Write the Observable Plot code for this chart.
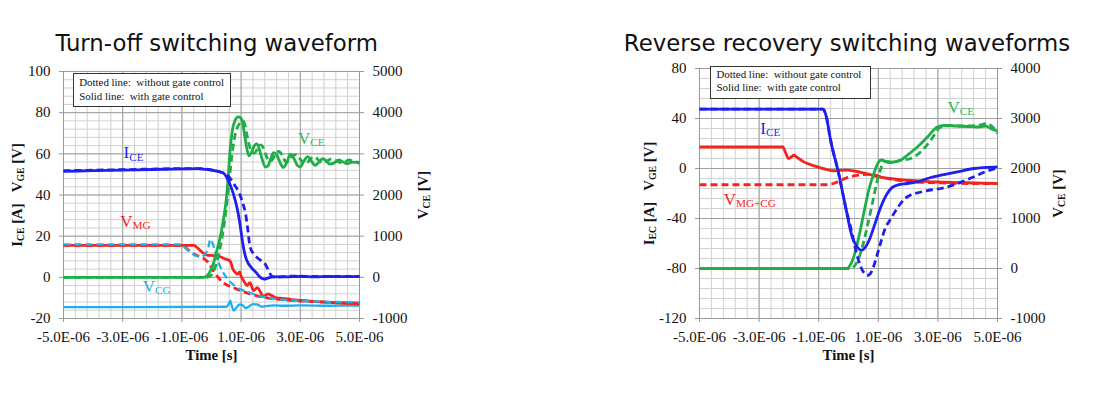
<!DOCTYPE html>
<html><head><meta charset="utf-8">
<script src="https://cdn.jsdelivr.net/npm/d3@7"></script>
<script src="https://cdn.jsdelivr.net/npm/@observablehq/plot@0.6"></script>
<style>
body{margin:0;background:#fff;}
#wrap{position:relative;width:1102px;height:394px;overflow:hidden;background:#fff;}
.panel{position:absolute;top:0;width:551px;height:394px;}
.panel svg text{font-family:'Liberation Serif','Times New Roman',serif;}
.title{position:absolute;font-family:"DejaVu Sans",sans-serif;font-size:22.8px;line-height:1;color:#111;white-space:nowrap;transform:translateX(-50%);}
.legend{position:absolute;box-sizing:border-box;border:1.5px solid #333;font-family:"Liberation Serif",serif;font-size:10.9px;color:#111;white-space:pre;background:#fff;}
</style></head>
<body><div id="wrap"></div>
<script>
// ---------- shared ticks ----------
const timeTicks = [-5, -3, -1, 1, 3, 5];            // µs
const timeMinor = d3.range(0, 26).map(i => -5 + i * 0.4);

// ---------- Turn-off switching waveform ----------
const offTicksLeft = [-20, 0, 20, 40, 60, 80, 100];
const offMinorY = d3.range(0, 31).map(i => -20 + i * 4);
const offVceMax = 5000, offLeftMax = 100; // right axis 5000 V <-> 100

const off_ICE_solid = [[-5,51.5],[-4,51.8],[-3,52.1],[-2,52.4],[-1,52.7],[-0.5,52.8],[-0.2,52.5],[0.1,51.8],[0.3,51.2],[0.45,50],[0.55,47.5],[0.63,45],[0.74,40.5],[0.86,34],[0.95,27],[1.05,17],[1.13,11],[1.2,8],[1.36,4.5],[1.5,2.5],[1.65,0],[1.78,-0.9],[1.9,-0.4],[2.1,0.3],[2.5,0.2],[3,0.4],[3.5,0.2],[4,0.4],[4.5,0.3],[5,0.4]];
const off_ICE_dashed = [[-5,51.8],[-3,52.3],[-1,52.8],[-0.4,52.8],[0,52.2],[0.3,51.2],[0.55,49.5],[0.75,45.5],[0.95,40.5],[1.08,35],[1.15,31],[1.22,24],[1.3,15],[1.42,11.5],[1.55,9.5],[1.7,7.8],[1.82,6.3],[1.92,3.5],[2.02,0.8],[2.12,0],[2.5,0.5],[3,0.6],[3.5,0.4],[4,0.5],[4.5,0.4],[5,0.4]];
const off_VCE_solid = [[-5,0],[-0.25,0],[-0.1,80],[0.05,300],[0.18,650],[0.3,1000],[0.4,1400],[0.5,1900],[0.57,2500],[0.63,3100],[0.7,3550],[0.8,3820],[0.9,3900],[0.98,3880],[1.05,3750],[1.12,3450],[1.2,3100],[1.27,2950],[1.36,3050],[1.45,3200],[1.53,3240],[1.62,3100],[1.72,2850],[1.82,2680],[1.9,2700],[2.0,2880],[2.1,3030],[2.2,2980],[2.32,2780],[2.43,2670],[2.55,2800],[2.66,2990],[2.78,2900],[2.9,2720],[3.0,2680],[3.12,2820],[3.25,2930],[3.38,2820],[3.5,2720],[3.62,2790],[3.75,2880],[3.88,2830],[4.0,2750],[4.15,2780],[4.3,2850],[4.45,2800],[4.6,2760],[4.75,2800],[4.9,2790],[5,2770]];
const off_VCE_dashed = [[-5,0],[-0.15,0],[0,60],[0.15,300],[0.3,750],[0.45,1400],[0.58,2200],[0.68,2900],[0.78,3400],[0.88,3650],[0.98,3760],[1.06,3800],[1.13,3700],[1.2,3450],[1.28,3200],[1.36,3050],[1.45,3020],[1.55,3120],[1.65,3220],[1.75,3150],[1.85,2950],[1.95,2820],[2.05,2850],[2.17,3000],[2.28,3060],[2.4,2950],[2.52,2800],[2.63,2830],[2.75,2960],[2.87,2980],[3.0,2870],[3.12,2770],[3.25,2800],[3.38,2900],[3.5,2920],[3.62,2840],[3.75,2780],[3.9,2820],[4.05,2880],[4.2,2840],[4.35,2790],[4.5,2810],[4.65,2850],[4.8,2820],[5,2790]];
const off_VMG_solid = [[-5,15.5],[-0.6,15.5],[-0.45,14],[-0.3,12],[-0.15,10.8],[0.1,10.5],[0.3,10],[0.45,9],[0.6,8.2],[0.66,7],[0.72,4],[0.8,2.5],[0.87,1.6],[0.95,2.6],[1.0,0.5],[1.1,-2],[1.2,-4],[1.3,-2.6],[1.42,-6.5],[1.55,-5],[1.65,-7],[1.76,-9.4],[1.9,-8],[2.05,-9],[2.2,-10],[2.4,-10.2],[2.7,-10.8],[3.0,-11.2],[3.5,-11.8],[4,-12.2],[4.5,-12.6],[5,-12.9]];
const off_VMG_dashed = [[-5,15.5],[-1.0,15.5],[-0.8,13.5],[-0.55,11],[-0.3,9.5],[-0.1,7],[0.07,3],[0.35,-2],[0.74,-5],[1.3,-8],[1.87,-10],[2.5,-11],[3.2,-11.6],[4,-12.1],[5,-12.5]];
const off_VCG_solid = [[-5,-14.5],[0.5,-14.3],[0.58,-13],[0.63,-11.3],[0.68,-13.5],[0.75,-16.2],[0.85,-14.5],[0.95,-13.2],[1.05,-13.5],[1.15,-15],[1.25,-14.3],[1.4,-13],[1.55,-13.2],[1.7,-14.3],[1.85,-14],[2.1,-13.6],[2.5,-13.8],[3,-13.6],[4,-13.8],[5,-13.7]];
const off_VCG_dashed = [[-5,16],[-1.05,16],[-0.9,14.5],[-0.6,11],[-0.35,10],[-0.2,11.5],[-0.1,15],[-0.04,18.5],[0.05,16],[0.15,11],[0.3,5],[0.5,0],[0.8,-4.3],[1.3,-7.5],[1.9,-10],[2.5,-11],[3.2,-11.5],[4,-11.9],[5,-12.1]];
const offLabelText = ["I_{CE}", "V_{CE}", "V_{MG}", "V_{CG}"];
const offLabelT = [-2.97, 2.92, -3.08, -2.32];
const offLabelV = [60.5, 67.6, 27.1, -4.4];

// ---------- Reverse recovery switching waveforms ----------
const rrTicksLeft = [-120, -80, -40, 0, 40, 80];
const rrMinorY = d3.range(0, 26).map(i => -120 + i * 8);
const rr_ICE_solid = [[-5,47.5],[-0.85,47.5],[-0.75,42],[-0.6,22.5],[-0.33,-4],[-0.1,-30.5],[0.12,-54.5],[0.3,-63],[0.43,-65.5],[0.55,-63.5],[0.7,-57],[0.85,-47],[1.08,-31],[1.3,-20],[1.45,-15.5],[1.64,-13.3],[1.97,-12],[2.31,-10.7],[2.65,-8],[3.1,-5.3],[3.66,-2.7],[4.21,0],[4.6,0.8],[5,1.3]];
const rr_ICE_dashed = [[-5,47.5],[-0.85,47.5],[-0.75,42],[-0.6,22.5],[-0.33,-4],[-0.1,-30.5],[0.1,-50],[0.24,-65],[0.4,-78],[0.52,-83.5],[0.63,-85.5],[0.72,-84.5],[0.8,-81],[1.0,-66],[1.12,-56],[1.24,-47.5],[1.4,-41],[1.55,-35],[1.75,-28],[1.9,-24],[2.1,-21],[2.4,-19],[2.8,-17],[3.1,-16],[3.66,-12],[4.21,-6.6],[4.6,-2.5],[5,0.5]];
const rr_VMG_solid = [[-5,17.2],[-2.2,17.2],[-2.1,12],[-2.01,8],[-1.9,9.5],[-1.84,10.6],[-1.7,8.5],[-1.5,5.3],[-1.2,2.5],[-0.94,0.5],[-0.7,-1],[-0.5,-1.8],[-0.3,-1.5],[-0.04,-1.3],[0.2,-2],[0.5,-3.5],[0.75,-5],[0.97,-6.5],[1.4,-8],[1.9,-9.3],[2.4,-10],[3,-10.8],[4,-11.4],[5,-12]];
const rr_VMGCG_dashed = [[-5,-13],[-0.75,-13],[-0.5,-12],[-0.27,-9.5],[0.07,-6.6],[0.4,-5.2],[0.74,-4.5],[1.0,-6],[1.3,-8],[1.7,-9.5],[2.2,-10.7],[3,-11.5],[4,-12],[5,-12]];
const rr_VCE_solid = [[-5,0],[-0.05,0],[0.05,60],[0.18,240],[0.35,640],[0.51,1100],[0.68,1570],[0.85,1900],[1.0,2120],[1.1,2170],[1.22,2150],[1.35,2120],[1.52,2130],[1.75,2165],[1.97,2265],[2.31,2430],[2.65,2630],[2.98,2830],[3.2,2860],[3.6,2850],[4.0,2840],[4.32,2830],[4.6,2850],[4.8,2790],[5,2750]];
const rr_VCE_dashed = [[-5,0],[0.1,0],[0.2,50],[0.4,300],[0.63,840],[0.8,1300],[0.97,1770],[1.13,2065],[1.25,2140],[1.47,2130],[1.75,2165],[2.09,2200],[2.42,2330],[2.76,2565],[3.1,2830],[3.4,2860],[3.8,2850],[4.3,2860],[4.66,2900],[4.85,2820],[5,2700]];
const rrLabelText = ["I_{CE}", "V_{CE}", "V_{MG+CG}"];
const rrLabelT = [-2.96, 3.32, -4.19];
const rrLabelV = [32.3, 49.1, -24.6];

// ---------- styles ----------
const BLUE = "#1f1ff0", GREEN = "#1fae48", RED = "#f5231e", CYAN = "#1eb0ee";
const LBL_GREEN = "#2bb860";
const DASH = "7,4";
const fmtTime = d => (d < 0 ? "-" : "") + Math.abs(d).toFixed(1) + "E-06";
const serif = "'Liberation Serif','Times New Roman',serif";

function lineMark(data, color, dashed, yfn, w = 2.8) {
  return Plot.line(data, {
    x: d => d[0], y: d => yfn(d[1]), stroke: color, strokeWidth: w,
    strokeDasharray: dashed ? DASH : null, curve: "monotone-x",
    strokeLinejoin: "round", strokeLinecap: "butt"
  });
}
const axisFont = {fontSize: 15, fontFamily: serif, stroke: "#999", fill: "#111"};
function frameMarks(minorY, majorY, rightFmt) {
  return [
    Plot.gridX(timeMinor, {stroke: "#d0d0d0", strokeOpacity: 1, strokeWidth: 1}),
    Plot.gridY(minorY, {stroke: "#d0d0d0", strokeOpacity: 1, strokeWidth: 1}),
    Plot.gridX(timeTicks, {stroke: "#a0a0a0", strokeOpacity: 1, strokeWidth: 1}),
    Plot.gridY(majorY, {stroke: "#a0a0a0", strokeOpacity: 1, strokeWidth: 1}),
    Plot.frame({stroke: "#999", strokeWidth: 1}),
    Plot.axisX(timeTicks, {...axisFont, tickFormat: fmtTime, tickSize: 4, tickPadding: 9, label: null}),
    Plot.axisY(majorY, {...axisFont, anchor: "left", tickSize: 4, tickPadding: 9, label: null, tickFormat: d => String(d)}),
    Plot.axisY(majorY, {...axisFont, anchor: "right", tickSize: 4, tickPadding: 9, label: null, tickFormat: rightFmt})
  ];
}
function labelMarks(texts, ts, vs, colors) {
  const rows = texts.map((s, i) => ({s, t: ts[i], v: vs[i], c: colors[i]}));
  return Plot.text(rows, {x: "t", y: "v", text: "s", fill: d => d.c, textAnchor: "start",
    lineAnchor: "middle", fontSize: 17, fontFamily: serif});
}
function axisTitles(leftLabel, rightLabel, dxLeft, dxRight) {
  const common = {text: d => d, fontWeight: "bold", fontSize: 14.8, fontFamily: serif, fill: "#111",
    textAnchor: "middle", lineAnchor: "middle"};
  return [
    Plot.text([leftLabel], {...common, frameAnchor: "left", rotate: -90, dx: dxLeft}),
    Plot.text([rightLabel], {...common, frameAnchor: "right", rotate: -90, dx: dxRight}),
    Plot.text(["Time [s]"], {...common, frameAnchor: "bottom", dy: 37})
  ];
}
const plotStyle = "font-family:'Liberation Serif','Times New Roman',serif;font-size:15px;color:#111;background:transparent;overflow:visible;";

const offY2 = v => v * offLeftMax / offVceMax;
const off = Plot.plot({
  width: 551, height: 394, marginLeft: 63, marginRight: 192, marginTop: 71, marginBottom: 76,
  x: {domain: [-5, 5]}, y: {domain: [-20, 100]}, style: plotStyle,
  marks: [
    ...frameMarks(offMinorY, offTicksLeft, d => String(Math.round(d * offVceMax / offLeftMax))),
    lineMark(off_VCG_solid, CYAN, false, v => v, 2.3),
    lineMark(off_VMG_dashed, RED, true, v => v),
    lineMark(off_VMG_solid, RED, false, v => v),
    lineMark(off_VCG_dashed, CYAN, true, v => v, 2.3),
    lineMark(off_VCE_solid, GREEN, false, offY2),
    lineMark(off_VCE_dashed, GREEN, true, offY2),
    lineMark(off_ICE_solid, BLUE, false, v => v),
    lineMark(off_ICE_dashed, BLUE, true, v => v),
    labelMarks(offLabelText, offLabelT, offLabelV, [BLUE, LBL_GREEN, RED, CYAN]),
    ...axisTitles("I_{CE} [A]\u00a0\u00a0\u00a0V_{GE} [V]", "V_{CE} [V]", -46.5, 64)
  ]
});

const rrY2 = v => (v + 1000) * 200 / 5000 - 120;
const rr = Plot.plot({
  width: 551, height: 394, marginLeft: 148, marginRight: 105, marginTop: 68, marginBottom: 76,
  x: {domain: [-5, 5]}, y: {domain: [-120, 80]}, style: plotStyle,
  marks: [
    ...frameMarks(rrMinorY, rrTicksLeft, d => String(Math.round((d + 120) * 5000 / 200 - 1000))),
    lineMark(rr_VMGCG_dashed, RED, true, v => v),
    lineMark(rr_VMG_solid, RED, false, v => v),
    lineMark(rr_VCE_solid, GREEN, false, rrY2),
    lineMark(rr_VCE_dashed, GREEN, true, rrY2),
    lineMark(rr_ICE_solid, BLUE, false, v => v),
    lineMark(rr_ICE_dashed, BLUE, true, v => v),
    labelMarks(rrLabelText, rrLabelT, rrLabelV, [BLUE, LBL_GREEN, RED]),
    ...axisTitles("I_{EC} [A]\u00a0\u00a0\u00a0V_{GE} [V]", "V_{CE} [V]", -50, 61)
  ]
});

// subscripts: "X_{sub}" -> tspans
function subscripts(svg) {
  const NS = "http://www.w3.org/2000/svg";
  svg.querySelectorAll("text").forEach(el => {
    const s = el.textContent;
    if (!s.includes("_{") || el.querySelector("tspan")) return;
    el.textContent = "";
    const parts = s.split(/_\{([^}]*)\}/);
    let shifted = false;
    parts.forEach((p, i) => {
      if (!p) return;
      const ts = document.createElementNS(NS, "tspan");
      ts.textContent = p;
      if (i % 2 === 1) { ts.setAttribute("font-size", "66%"); ts.setAttribute("dy", "0.22em"); shifted = true; }
      else if (shifted) { ts.setAttribute("dy", "-0.145em"); shifted = false; }
      el.appendChild(ts);
    });
  });
}
subscripts(off); subscripts(rr);

const wrap = document.getElementById("wrap");
const p1 = document.createElement("div"); p1.className = "panel"; p1.style.left = "0px"; p1.appendChild(off);
const p2 = document.createElement("div"); p2.className = "panel"; p2.style.left = "551px"; p2.appendChild(rr);
wrap.appendChild(p1); wrap.appendChild(p2);

const titles = [["Turn-off switching waveform", 216.7], ["Reverse recovery switching waveforms", 847]];
titles.forEach(([s, cx]) => {
  const d = document.createElement("div"); d.className = "title"; d.textContent = s;
  d.style.left = cx + "px"; d.style.top = "32.4px"; wrap.appendChild(d);
});
const legendText = "Dotted line:  without gate control\nSolid line:  with gate control";
[[72.7, 73.3, 158, 34, 14], [710, 65.7, 160.7, 33.3, 13.4]].forEach(([l, t, w, h, lh]) => {
  const d = document.createElement("div"); d.className = "legend"; d.textContent = legendText;
  Object.assign(d.style, {left: l + "px", top: t + "px", width: w + "px", height: h + "px",
    lineHeight: lh + "px", paddingLeft: "5.5px", paddingTop: "1.2px"});
  wrap.appendChild(d);
});
</script></body></html>
